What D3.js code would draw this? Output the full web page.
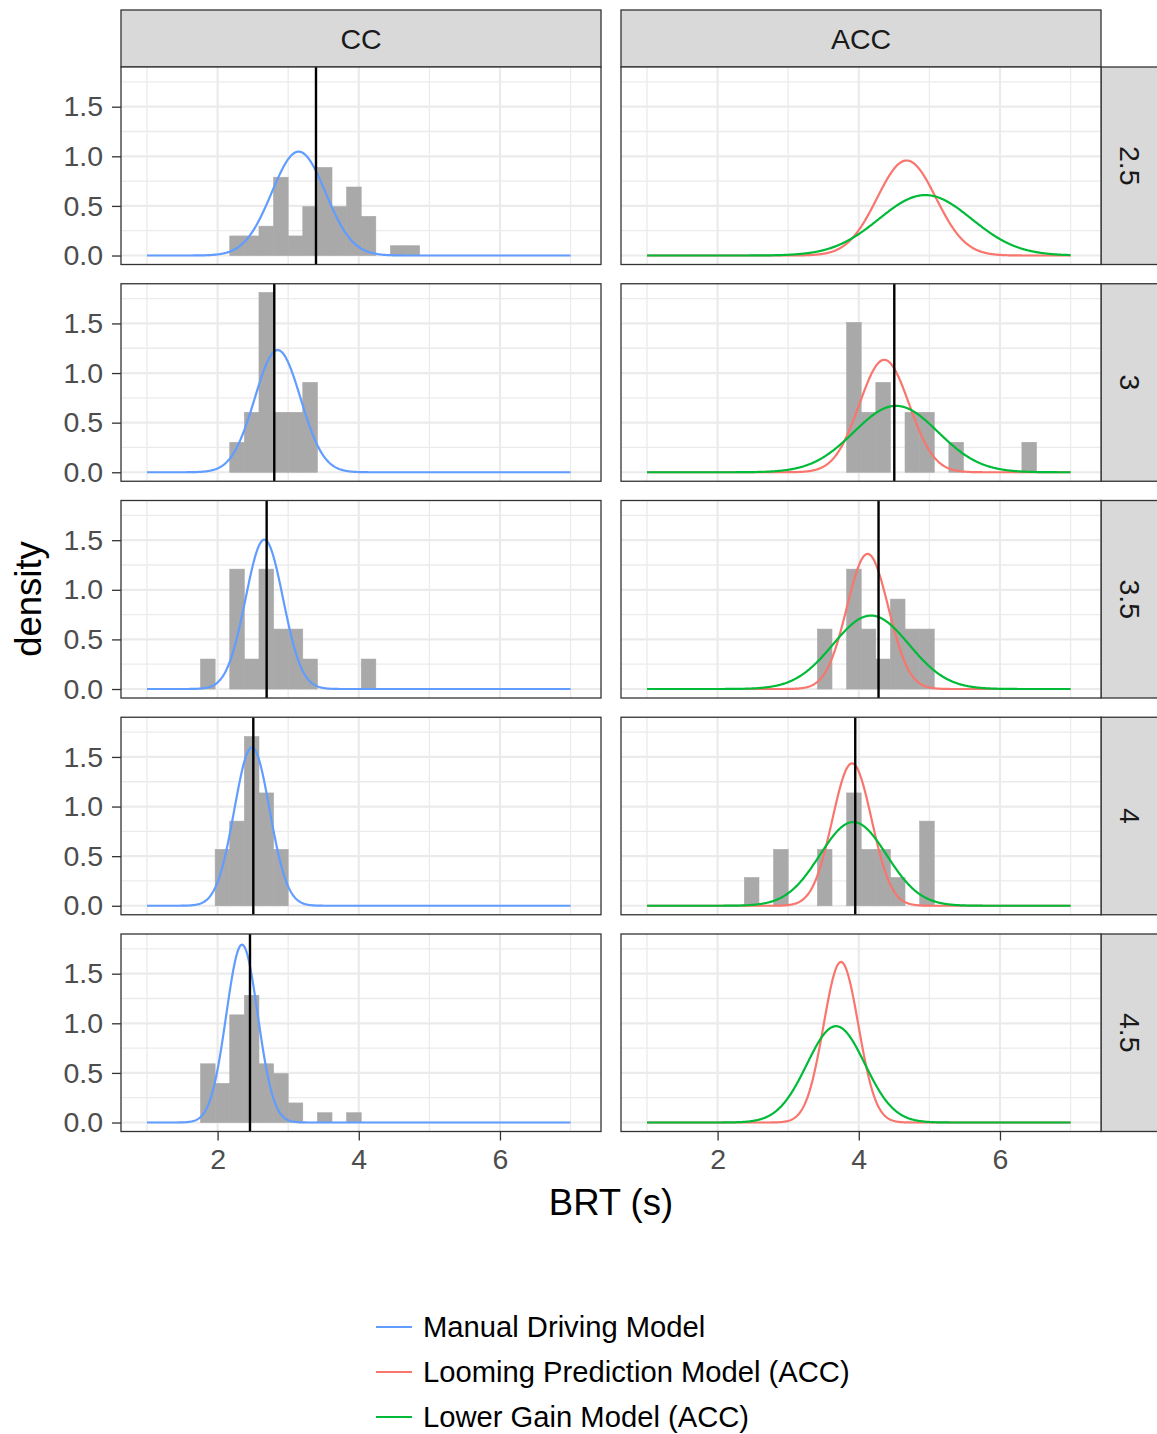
<!DOCTYPE html>
<html>
<head>
<meta charset="utf-8">
<script src="https://cdn.jsdelivr.net/npm/d3@7/dist/d3.min.js"></script>
<style>
  html, body { margin: 0; padding: 0; background: #fff; }
  svg { display: block; font-family: "Liberation Sans", Arial, sans-serif; }
</style>
</head>
<body>
<svg id="chart" width="1157" height="1434"></svg>
<script>
// Facet labels
const columns = ["CC", "ACC"];
const rows = ["2.5", "3", "3.5", "4", "4.5"];

// Axis ticks
const xTicks = [2, 4, 6];
const xMinor = [1, 3, 5, 7];
const yTicks = [0, 0.5, 1.0, 1.5];
const yMinor = [0.25, 0.75, 1.25, 1.75];

// Histogram bins: 30 bins spanning 1..7, bin k covers [(k+0.5)w, (k+1.5)w)
const binWidth = 6 / 29;

// Observed BRT counts per bin (first bin index, then counts), one entry per row
const ccHist = [
  { first: 10, counts: [2, 2, 3, 8, 2, 5, 9, 5, 7, 4, 0, 1, 1] },
  { first: 10, counts: [1, 2, 6, 2, 2, 3] },
  { first: 8,  counts: [1, 0, 4, 1, 4, 2, 2, 1, 0, 0, 0, 1] },
  { first: 9,  counts: [2, 3, 6, 4, 2] },
  { first: 8,  counts: [6, 4, 11, 13, 6, 5, 2, 0, 1, 0, 1] }
];
const accHist = [
  null,
  { first: 18, counts: [5, 2, 3, 0, 2, 2, 0, 1, 0, 0, 0, 0, 1] },
  { first: 16, counts: [2, 0, 4, 2, 1, 3, 2, 2] },
  { first: 11, counts: [1, 0, 2, 0, 0, 2, 0, 4, 2, 2, 1, 0, 3] },
  null
];

// Observed mean BRT (vertical reference line)
const ccMean = [3.394, 2.803, 2.695, 2.506, 2.459];
const accMean = [null, 4.503, 4.28, 3.95, null];

// Model predictions: normal densities (mean, sd) per row
const manualMean = [3.148, 2.851, 2.662, 2.487, 2.346];
const manualSd   = [0.381, 0.324, 0.265, 0.250, 0.2226];
const loomingMean = [4.677, 4.361, 4.125, 3.904, 3.748];
const loomingSd   = [0.4165, 0.352, 0.293, 0.278, 0.2465];
const lowGainMean = [4.942, 4.527, 4.173, 3.922, 3.677];
const lowGainSd   = [0.655, 0.596, 0.539, 0.473, 0.411];

const models = [
  { name: "Manual Driving Model", color: "#619CFF", col: 0, mean: manualMean, sd: manualSd },
  { name: "Looming Prediction Model (ACC)", color: "#F8766D", col: 1, mean: loomingMean, sd: loomingSd },
  { name: "Lower Gain Model (ACC)", color: "#00BA38", col: 1, mean: lowGainMean, sd: lowGainSd }
];

// ---- layout ----
const panelLeft = [121, 621];
const panelW = 480;
const panelTop0 = 67;
const panelStep = 216.75;
const panelH = 197.5;
const stripTop = 10;
const stripRightX = 1101;
const smallFont = 28.5;
const titleFont = 36.5;

const svg = d3.select("#chart");

const x = d3.scaleLinear().domain([0.632, 7.431]).range([0, panelW]);
const y = d3.scaleLinear().domain([-0.0905, 1.9]).range([panelH, 0]);

const normPdf = (v, m, s) => Math.exp(-0.5 * ((v - m) / s) ** 2) / (s * Math.sqrt(2 * Math.PI));
const xGrid = d3.range(1, 7.0001, 0.01);

const line = d3.line().x(d => x(d[0])).y(d => y(d[1]));

// Top strips
columns.forEach((c, ci) => {
  const g = svg.append("g").attr("transform", `translate(${panelLeft[ci]},${stripTop})`);
  g.append("rect").attr("width", panelW).attr("height", panelTop0 - stripTop)
    .attr("fill", "#D9D9D9").attr("stroke", "#333333").attr("stroke-width", 1.3);
  g.append("text").attr("x", panelW / 2).attr("y", (panelTop0 - stripTop) / 2)
    .attr("text-anchor", "middle").attr("dominant-baseline", "central")
    .attr("font-size", smallFont).attr("fill", "#1A1A1A").text(c);
});

rows.forEach((r, ri) => {
  const top = panelTop0 + ri * panelStep;

  // Right strip
  const sg = svg.append("g").attr("transform", `translate(${stripRightX},${top})`);
  sg.append("rect").attr("width", 60).attr("height", panelH)
    .attr("fill", "#D9D9D9").attr("stroke", "#333333").attr("stroke-width", 1.3);
  sg.append("text").attr("transform", `translate(29,${panelH / 2}) rotate(90)`)
    .attr("text-anchor", "middle").attr("dominant-baseline", "central")
    .attr("font-size", smallFont).attr("fill", "#1A1A1A").text(r);

  columns.forEach((c, ci) => {
    const g = svg.append("g").attr("transform", `translate(${panelLeft[ci]},${top})`);
    const clipId = `clip-${ri}-${ci}`;
    g.append("clipPath").attr("id", clipId).append("rect").attr("width", panelW).attr("height", panelH);
    const inner = g.append("g").attr("clip-path", `url(#${clipId})`);

    inner.append("rect").attr("width", panelW).attr("height", panelH).attr("fill", "#fff");

    // grid
    inner.selectAll(".xminor").data(xMinor).join("line")
      .attr("x1", d => x(d)).attr("x2", d => x(d)).attr("y1", 0).attr("y2", panelH)
      .attr("stroke", "#EBEBEB").attr("stroke-width", 1.3);
    inner.selectAll(".yminor").data(yMinor).join("line")
      .attr("y1", d => y(d)).attr("y2", d => y(d)).attr("x1", 0).attr("x2", panelW)
      .attr("stroke", "#EBEBEB").attr("stroke-width", 1.3);
    inner.selectAll(".xmajor").data(xTicks).join("line")
      .attr("x1", d => x(d)).attr("x2", d => x(d)).attr("y1", 0).attr("y2", panelH)
      .attr("stroke", "#EBEBEB").attr("stroke-width", 2.2);
    inner.selectAll(".ymajor").data(yTicks).join("line")
      .attr("y1", d => y(d)).attr("y2", d => y(d)).attr("x1", 0).attr("x2", panelW)
      .attr("stroke", "#EBEBEB").attr("stroke-width", 2.2);

    // histogram
    const h = (ci === 0 ? ccHist : accHist)[ri];
    if (h) {
      const n = d3.sum(h.counts);
      const bins = h.counts.map((cnt, i) => {
        const k = h.first + i;
        return { x0: (k + 0.5) * binWidth, x1: (k + 1.5) * binWidth, dens: cnt / (n * binWidth) };
      }).filter(b => b.dens > 0);
      inner.selectAll(".bar").data(bins).join("rect")
        .attr("x", d => x(d.x0)).attr("width", d => x(d.x1) - x(d.x0))
        .attr("y", d => y(d.dens)).attr("height", d => y(0) - y(d.dens))
        .attr("fill", "#A9A9A9").attr("stroke", "#A9A9A9").attr("stroke-width", 0.6);
    }

    // model curves
    models.filter(m => m.col === ci).forEach(m => {
      const pts = xGrid.map(v => [v, normPdf(v, m.mean[ri], m.sd[ri])]);
      inner.append("path").attr("d", line(pts)).attr("fill", "none")
        .attr("stroke", m.color).attr("stroke-width", 2.2);
    });

    // observed mean line
    const mv = (ci === 0 ? ccMean : accMean)[ri];
    if (mv !== null) {
      inner.append("line").attr("x1", x(mv)).attr("x2", x(mv)).attr("y1", 0).attr("y2", panelH)
        .attr("stroke", "#000").attr("stroke-width", 2.4);
    }

    // border
    g.append("rect").attr("width", panelW).attr("height", panelH)
      .attr("fill", "none").attr("stroke", "#333333").attr("stroke-width", 1.3);

    // y axis on left column
    if (ci === 0) {
      const ya = d3.axisLeft(y).tickValues(yTicks).tickFormat(d3.format(".1f")).tickSize(9).tickPadding(9);
      const ag = g.append("g").call(ya);
      ag.select(".domain").remove();
      ag.selectAll(".tick line").attr("stroke", "#333333").attr("stroke-width", 1.3);
      ag.selectAll(".tick text").attr("font-size", smallFont).attr("fill", "#4D4D4D")
        .attr("font-family", "Liberation Sans, Arial, sans-serif");
    }
    // x axis on bottom row
    if (ri === rows.length - 1) {
      const xa = d3.axisBottom(x).tickValues(xTicks).tickFormat(d3.format("d")).tickSize(9).tickPadding(8);
      const ag = g.append("g").attr("transform", `translate(0,${panelH})`).call(xa);
      ag.select(".domain").remove();
      ag.selectAll(".tick line").attr("stroke", "#333333").attr("stroke-width", 1.3);
      ag.selectAll(".tick text").attr("font-size", smallFont).attr("fill", "#4D4D4D")
        .attr("font-family", "Liberation Sans, Arial, sans-serif");
    }
  });
});

// Axis titles
svg.append("text").attr("x", 611).attr("y", 1215).attr("text-anchor", "middle")
  .attr("font-size", titleFont).attr("fill", "#000").text("BRT (s)");
svg.append("text").attr("transform", "translate(41,599) rotate(-90)").attr("text-anchor", "middle")
  .attr("font-size", titleFont).attr("fill", "#000").text("density");

// Legend
const lg = svg.append("g").attr("transform", "translate(376,1327)");
models.forEach((m, i) => {
  const row = lg.append("g").attr("transform", `translate(0,${i * 45})`);
  row.append("line").attr("x1", 0).attr("x2", 36).attr("stroke", m.color).attr("stroke-width", 2.2);
  row.append("text").attr("x", 47).attr("dominant-baseline", "central")
    .attr("font-size", 29.2).attr("fill", "#000").text(m.name);
});
</script>
</body>
</html>
